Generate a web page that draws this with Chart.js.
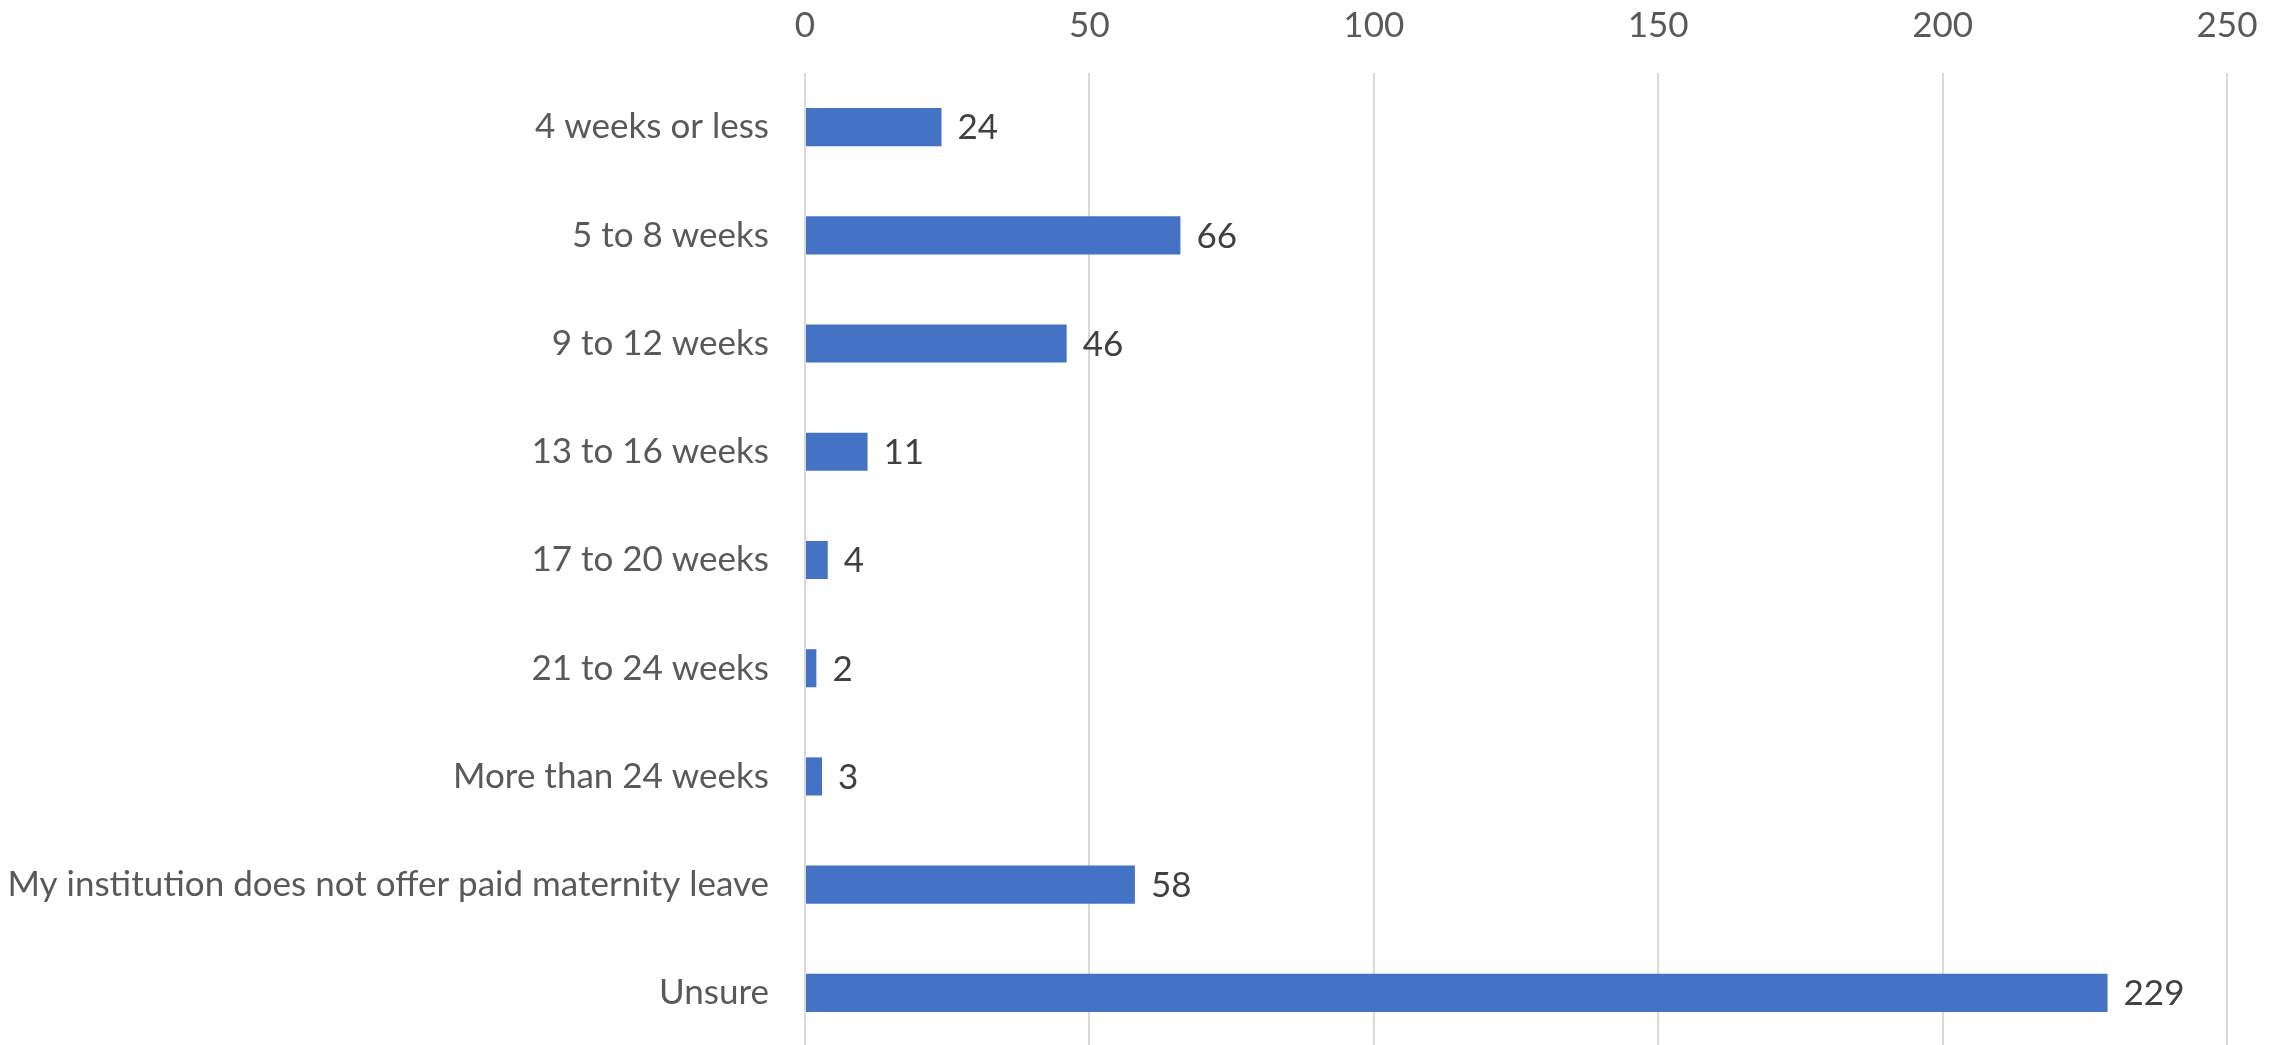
<!DOCTYPE html>
<html>
<head>
<meta charset="utf-8">
<script src="https://cdn.jsdelivr.net/npm/chart.js@4.4.1/dist/chart.umd.min.js"></script>
<style>
  html, body { margin: 0; padding: 0; background: #fff; overflow: hidden; }
  #wrap { width: 2287px; height: 1047px; position: relative; }
</style>
</head>
<body>
<div id="wrap"><canvas id="chart"></canvas></div>
<script>
// leave duration answers
const categories = [
  '4 weeks or less',
  '5 to 8 weeks',
  '9 to 12 weeks',
  '13 to 16 weeks',
  '17 to 20 weeks',
  '21 to 24 weeks',
  'More than 24 weeks',
  'My institution does not offer paid maternity leave',
  'Unsure'
];
const counts = [24, 66, 46, 11, 4, 2, 3, 58, 229];
const axisMax = 250;
const axisStep = 50;

const FONT = 'Lato, "Open Sans", sans-serif';
const FONT_SIZE = 35;

// draws the number just right of each bar
const valueLabels = {
  id: 'valueLabels',
  afterDatasetsDraw(chart) {
    const ctx = chart.ctx;
    const meta = chart.getDatasetMeta(0);
    ctx.save();
    ctx.font = FONT_SIZE + 'px ' + FONT;
    ctx.fillStyle = '#404040';
    ctx.textAlign = 'left';
    ctx.textBaseline = 'middle';
    meta.data.forEach((bar, i) => {
      ctx.fillText(String(counts[i]), bar.x + 16, bar.y + 1);
    });
    ctx.restore();
  }
};

const ctx = document.getElementById('chart').getContext('2d');
new Chart(ctx, {
  type: 'bar',
  data: {
    labels: categories,
    datasets: [{
      data: counts,
      backgroundColor: '#4472C4',
      borderWidth: 0,
      barPercentage: 1,
      categoryPercentage: 0.352
    }]
  },
  options: {
    indexAxis: 'y',
    responsive: true,
    maintainAspectRatio: false,
    animation: false,
    layout: { padding: { left: 0, right: 60, top: 0, bottom: 0 } },
    plugins: {
      legend: { display: false },
      tooltip: { enabled: false }
    },
    scales: {
      x: {
        position: 'top',
        min: 0,
        max: axisMax,
        border: { display: false },
        grid: { color: '#D9D9D9', lineWidth: 2, drawTicks: false },
        ticks: {
          stepSize: axisStep,
          padding: 26,
          color: '#595959',
          font: { family: FONT, size: FONT_SIZE }
        },
        afterFit(axis) { axis.height = 73; }
      },
      y: {
        border: { display: false },
        grid: { display: false, drawTicks: false },
        ticks: {
          padding: 36,
          color: '#595959',
          font: { family: FONT, size: FONT_SIZE }
        },
        afterFit(axis) {
          axis.width = 805;
          // no extra room above/below for the edge labels
          axis.paddingTop = 0;
          axis.paddingBottom = 0;
        }
      }
    }
  },
  plugins: [valueLabels]
});
</script>
</body>
</html>
